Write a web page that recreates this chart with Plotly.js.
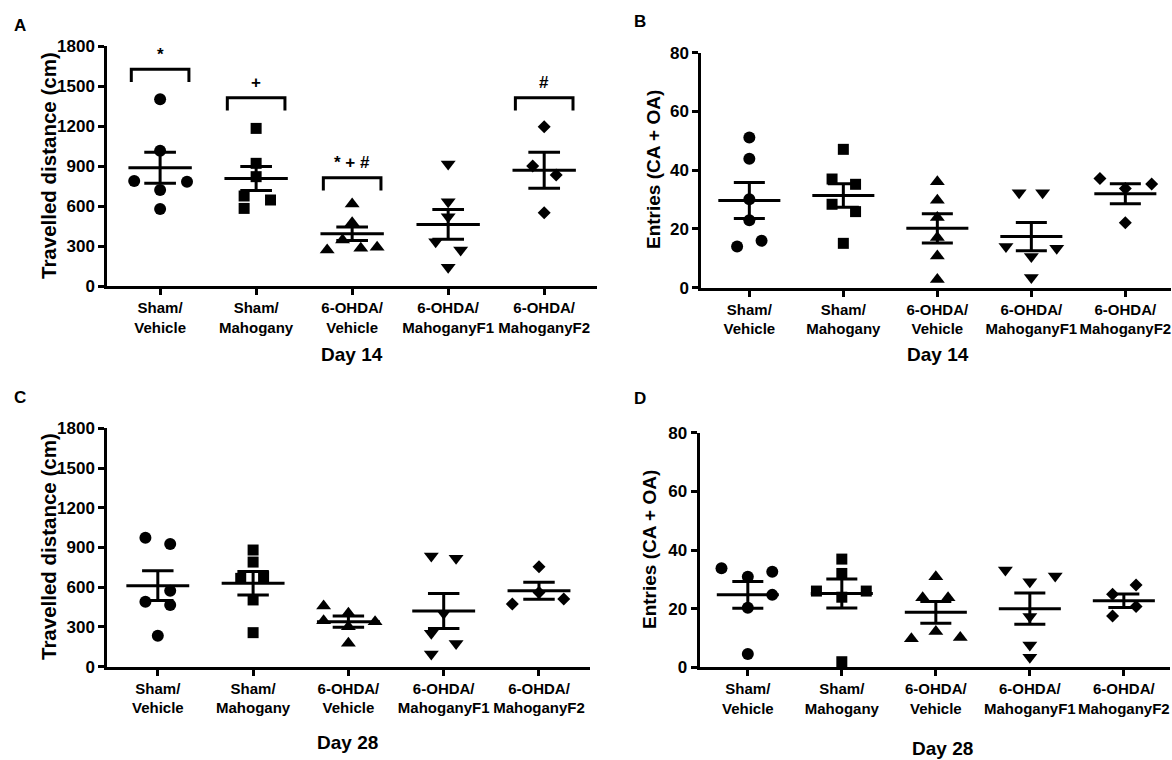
<!DOCTYPE html>
<html>
<head>
<meta charset="utf-8">
<script src="https://cdn.plot.ly/plotly-3.0.1.min.js"></script>
<style>html,body{margin:0;padding:0;background:#fff}#chart{width:1172px;height:760px}</style>
</head>
<body>
<div id="chart"></div>
<script>
// ---------------- data ----------------
const categories = ["Sham/<br>Vehicle", "Sham/<br>Mahogany", "6-OHDA/<br>Vehicle", "6-OHDA/<br>MahoganyF1", "6-OHDA/<br>MahoganyF2"];
const groupSymbols = ["circle", "square", "triangle-up", "triangle-down", "diamond"];
const distTicks = [0, 300, 600, 900, 1200, 1500, 1800];
const entryTicks = [0, 20, 40, 60, 80];

// Panel A: travelled distance, day 14
const distDay14 = [
  [1400, 1015, 787, 782, 720, 577],
  [1182, 920, 820, 675, 645, 582],
  [615, 475, 345, 270, 283, 290],
  [915, 632, 520, 332, 270, 140],
  [1195, 900, 832, 550]
];
const distDay14Jitter = [
  [0, 0, -0.27, 0.28, 0, 0],
  [0, 0, 0, -0.125, 0.15, -0.125],
  [0, 0, -0.10, -0.26, 0.09, 0.26],
  [0, 0, 0, -0.13, 0.13, 0],
  [0, -0.12, 0.125, 0]
];
const distDay14Mean = [887, 807, 392, 462, 868];
const distDay14Sem = [116, 90, 50, 112, 135];
const sigGroup = [0, 1, 2, 4];
const sigText = ["*", "+", "* + #", "#"];
const sigBracketTop = [1625, 1412, 812, 1412];
const sigBracketDepth = 95;

// Panel B: entries, day 14
const entDay14 = [
  [51.1, 43.9, 30.1, 23.0, 14.0, 16.0],
  [47.1, 37.0, 35.2, 28.4, 25.9, 15.1],
  [36.1, 29.8, 23.9, 17.1, 10.8, 2.8],
  [32.3, 32.3, 14.0, 13.4, 10.6, 3.5],
  [37.2, 35.3, 33.8, 22.1]
];
const entDay14Jitter = [
  [0, 0, 0, 0, -0.13, 0.13],
  [0, -0.12, 0.13, -0.12, 0.13, 0],
  [0, 0, 0, 0, 0, 0],
  [-0.13, 0.12, -0.27, 0.27, 0, 0],
  [-0.27, 0.28, 0, 0]
];
const entDay14Mean = [29.7, 31.4, 20.2, 17.4, 32.0];
const entDay14Sem = [6.1, 4.0, 5.0, 4.8, 3.4];

// Panel C: travelled distance, day 28
const distDay28 = [
  [974, 926, 574, 491, 466, 234],
  [881, 790, 667, 680, 504, 257],
  [458, 347, 403, 302, 177, 340],
  [836, 818, 403, 252, 176, 96],
  [755, 473, 511, 561]
];
const distDay28Jitter = [
  [-0.13, 0.13, 0.13, -0.13, 0.13, 0],
  [0, 0, -0.13, 0.11, 0, 0],
  [-0.26, -0.26, 0, 0, 0, 0.28],
  [-0.13, 0.13, 0, -0.13, 0.13, -0.13],
  [0, -0.28, 0.26, 0]
];
const distDay28Mean = [612, 630, 340, 420, 574];
const distDay28Sem = [113, 88, 43, 132, 64];

// Panel D: entries, day 28
const entDay28 = [
  [33.75, 32.6, 30.9, 24.7, 20.3, 4.5],
  [36.9, 32.0, 26.0, 26.0, 23.9, 1.9],
  [30.9, 23.75, 23.75, 12.2, 9.7, 10.2],
  [33.2, 29.2, 31.1, 17.3, 7.6, 3.4],
  [28.1, 24.9, 20.7, 17.5]
];
const entDay28Jitter = [
  [-0.28, 0.26, 0, 0.26, 0, 0],
  [0, 0, -0.27, 0.26, 0, 0],
  [0, -0.14, 0.13, 0, -0.26, 0.26],
  [-0.26, 0, 0.27, 0, 0, 0],
  [0.13, -0.12, 0.13, -0.12]
];
const entDay28Mean = [24.7, 25.2, 18.75, 20.0, 22.7];
const entDay28Sem = [4.55, 4.95, 3.7, 5.35, 2.3];

// ---------------- drawing ----------------
const W = 1172, H = 760;
const px = v => v / W;
const py = v => 1 - v / H;
const SANS = "Liberation Sans, Arial, sans-serif";
const MEAN_HALF = 0.33, CAP_HALF = 0.165;
const markerSizes = {'circle': 12, 'square': 11, 'triangle-up': 13, 'triangle-down': 13, 'diamond': 10};

const traces = [];
function addPanel(vals, jit, means, sems, ax) {
  const xa = 'x' + (ax === 1 ? '' : ax), ya = 'y' + (ax === 1 ? '' : ax);
  vals.forEach((g, gi) => {
    const sym = groupSymbols[gi];
    traces.push({
      type: 'scatter', mode: 'markers', xaxis: xa, yaxis: ya,
      x: g.map((v, i) => gi + jit[gi][i]), y: g,
      marker: {symbol: sym, size: markerSizes[sym], color: '#000', line: {width: 0}},
      cliponaxis: false, hoverinfo: 'y', showlegend: false
    });
    const m = means[gi], s = sems[gi];
    traces.push({
      type: 'scatter', mode: 'lines', xaxis: xa, yaxis: ya,
      x: [gi - MEAN_HALF, gi + MEAN_HALF, null, gi, gi, null, gi - CAP_HALF, gi + CAP_HALF, null, gi - CAP_HALF, gi + CAP_HALF],
      y: [m, m, null, m - s, m + s, null, m + s, m + s, null, m - s, m - s],
      line: {color: '#000', width: 3}, cliponaxis: false, hoverinfo: 'skip', showlegend: false
    });
  });
}
addPanel(distDay14, distDay14Jitter, distDay14Mean, distDay14Sem, 1);
addPanel(entDay14, entDay14Jitter, entDay14Mean, entDay14Sem, 2);
addPanel(distDay28, distDay28Jitter, distDay28Mean, distDay28Sem, 3);
addPanel(entDay28, entDay28Jitter, entDay28Mean, entDay28Sem, 4);

// significance brackets (panel A)
const bx = [], by = [];
sigGroup.forEach((g, i) => {
  const t = sigBracketTop[i];
  bx.push(g - 0.3, g - 0.3, g + 0.3, g + 0.3, null);
  by.push(t - sigBracketDepth, t, t, t - sigBracketDepth, null);
});
traces.push({type: 'scatter', mode: 'lines', x: bx, y: by, xaxis: 'x', yaxis: 'y',
  line: {color: '#000', width: 3}, cliponaxis: false, hoverinfo: 'skip', showlegend: false});

function xAxis(domain, range, anchor) {
  return {
    domain: domain, range: range, anchor: anchor,
    tickmode: 'array', tickvals: [0, 1, 2, 3, 4], ticktext: categories,
    tickangle: 0, ticklabeloverflow: 'allow',
    showline: true, linecolor: '#000', linewidth: 3,
    ticks: 'outside', ticklen: 6, tickwidth: 3, tickcolor: '#000',
    tickfont: {family: SANS, size: 15, color: '#000', weight: 'bold'},
    showgrid: false, zeroline: false, fixedrange: true
  };
}
function yAxis(domain, range, ticks, anchor) {
  return {
    domain: domain, range: range, anchor: anchor,
    tickmode: 'array', tickvals: ticks, ticktext: ticks.map(String),
    showline: true, linecolor: '#000', linewidth: 3,
    ticks: 'outside', ticklen: 6, tickwidth: 3, tickcolor: '#000',
    tickfont: {family: SANS, size: 17, color: '#000', weight: 'bold'},
    showgrid: false, zeroline: false, fixedrange: true
  };
}

const annotations = [];
function ann(text, x, y, opts) {
  annotations.push(Object.assign({
    text: text, x: px(x), y: py(y), xref: 'paper', yref: 'paper',
    showarrow: false, xanchor: 'center', yanchor: 'middle',
    font: {family: SANS, size: 17, color: '#000', weight: 'bold'}
  }, opts || {}));
}
// panel letters
ann('A', 20, 25); ann('B', 640, 22); ann('C', 20, 397); ann('D', 640, 398);
// axis titles
const distTitleFont = {family: SANS, size: 20.5, color: '#000', weight: 'bold'};
const entTitleFont = {family: SANS, size: 19, color: '#000', weight: 'bold'};
ann('Travelled distance (cm)', 48, 166, {textangle: -90, font: distTitleFont});
ann('Entries (CA + OA)', 653, 170, {textangle: -90, font: entTitleFont});
ann('Travelled distance (cm)', 48, 547, {textangle: -90, font: distTitleFont});
ann('Entries (CA + OA)', 649, 550, {textangle: -90, font: entTitleFont});
const dayFont = {family: SANS, size: 19, color: '#000', weight: 'bold'};
ann('Day 14', 351.5, 355, {font: dayFont});
ann('Day 14', 937.8, 355, {font: dayFont});
ann('Day 28', 347.8, 742, {font: dayFont});
ann('Day 28', 942.6, 748, {font: dayFont});
// significance labels
sigGroup.forEach((g, i) => {
  annotations.push({
    text: sigText[i], x: g, y: sigBracketTop[i], xref: 'x', yref: 'y',
    showarrow: false, xanchor: 'center', yanchor: 'middle', yshift: 15,
    font: {family: SANS, size: 17, color: '#000', weight: 'bold'}
  });
});

const layout = {
  width: W, height: H, margin: {l: 0, r: 0, t: 0, b: 0},
  paper_bgcolor: '#fff', plot_bgcolor: '#fff', showlegend: false,
  xaxis: xAxis([px(107.3), px(597)], [-0.55, 4.55], 'y'),
  yaxis: yAxis([py(286), py(46)], [0, 1800], distTicks, 'x'),
  xaxis2: xAxis([px(701.4), px(1171.4)], [-0.51, 4.49], 'y2'),
  yaxis2: yAxis([py(287.7), py(52.7)], [0, 80], entryTicks, 'x2'),
  xaxis3: xAxis([px(107.3), px(589.5)], [-0.53, 4.53], 'y3'),
  yaxis3: yAxis([py(666.7), py(428.3)], [0, 1800], distTicks, 'x3'),
  xaxis4: xAxis([px(699.5), px(1169.9)], [-0.514, 4.49], 'y4'),
  yaxis4: yAxis([py(667.3), py(432.7)], [0, 80], entryTicks, 'x4'),
  annotations: annotations
};
Plotly.newPlot('chart', traces, layout, {displayModeBar: false, staticPlot: true});
</script>
</body>
</html>
